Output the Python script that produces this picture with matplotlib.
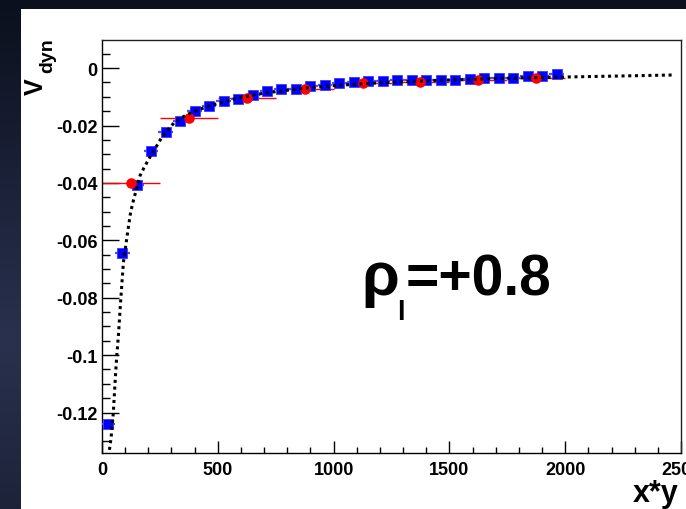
import matplotlib
matplotlib.use("Agg")
import matplotlib.pyplot as plt
import numpy as np
from matplotlib.patches import Rectangle
from matplotlib.ticker import MultipleLocator, FixedLocator, FuncFormatter

# blue squares (fine bins)
blue_x = [25, 87.5, 150, 212.5, 275, 337.5, 400, 462.5, 525, 587.5, 650,
          712.5, 775, 837.5, 900, 962.5, 1025, 1087.5, 1150, 1212.5, 1275,
          1337.5, 1400, 1462.5, 1525, 1587.5, 1650, 1712.5, 1775, 1837.5,
          1900, 1962.5]
blue_y = [-0.124, -0.0645, -0.0407, -0.029, -0.0224, -0.0183, -0.0151,
          -0.0133, -0.0116, -0.0106, -0.0094, -0.0081, -0.0072, -0.0071,
          -0.0064, -0.0059, -0.0052, -0.0050, -0.0046, -0.0045, -0.0043,
          -0.0042, -0.0042, -0.0041, -0.0040, -0.0039, -0.0036, -0.0035,
          -0.0034, -0.0029, -0.0028, -0.0020]
blue_xerr = [31.25] * len(blue_x)
blue_yerr = [0.0006] * len(blue_x)

# red circles (coarse bins)
red_x = [125, 375, 625, 875, 1125, 1375, 1625, 1875]
red_y = [-0.0400, -0.0175, -0.0103, -0.0073, -0.0053, -0.0048, -0.0041, -0.0036]
red_xerr = [125] * len(red_x)
red_yerr = [0.0003] * len(red_x)

# dotted reference curve
curve_x = [32, 39, 49, 56, 63, 71, 79, 92, 111, 124, 136, 164, 182, 202, 219,
           237, 258, 275, 294, 313, 337, 381, 450, 525, 600, 700, 800, 900,
           1000, 1200, 1400, 1600, 1800, 2000, 2200, 2460]
curve_y = [-0.133, -0.129, -0.120, -0.110, -0.101, -0.093, -0.083, -0.068,
           -0.057, -0.050, -0.046, -0.0375, -0.0346, -0.0317, -0.0293, -0.027,
           -0.0241, -0.0224, -0.0206, -0.0189, -0.0175, -0.0157, -0.0135,
           -0.0117, -0.0102, -0.0087, -0.0077, -0.0068, -0.0061, -0.0051,
           -0.0044, -0.0039, -0.0034, -0.0031, -0.0028, -0.0024]

y_ticks = [0, -0.02, -0.04, -0.06, -0.08, -0.1, -0.12]

plt.rcParams["font.family"] = ["Liberation Sans", "DejaVu Sans"]
plt.rcParams["axes.unicode_minus"] = False

W, H = 686, 510
fig = plt.figure(figsize=(W / 100, H / 100), dpi=100)

# dark backdrop with a white panel
bg = fig.add_axes([0, 0, 1, 1])
grad = np.linspace(0, 1, 256).reshape(-1, 1)
cmap = matplotlib.colors.LinearSegmentedColormap.from_list(
    "bg", ["#0b101d", "#1a2036", "#29314e", "#1d2339"])
bg.imshow(grad, aspect="auto", cmap=cmap, extent=[0, 1, 0, 1])
bg.add_patch(Rectangle((21 / W, 0), 1 - 21 / W, 1 - 10 / H,
                       facecolor="white", edgecolor="none"))
bg.set_xlim(0, 1)
bg.set_ylim(0, 1)
bg.axis("off")

ax = fig.add_axes([102 / W, 1 - 454 / H, (681 - 102) / W, (454 - 41) / H])
ax.set_facecolor("white")

ax.errorbar(red_x, red_y, xerr=red_xerr, yerr=red_yerr, fmt="none",
            ecolor="#ff0000", elinewidth=1.0, capsize=0, zorder=2)
ax.errorbar(blue_x, blue_y, xerr=blue_xerr, yerr=blue_yerr, fmt="s",
            color="#0000ff", ecolor="#4d4dff", elinewidth=1.6, capsize=0,
            markersize=7.8, markeredgewidth=0.6, markeredgecolor="#3a3aff",
            zorder=3)
ax.plot(red_x, red_y, "o", color="#ff0000", markersize=7.6,
        markeredgewidth=0, zorder=4)
ax.plot(curve_x, curve_y, color="black", linewidth=2.2,
        linestyle=(0, (1, 1.2)), dash_capstyle="butt", zorder=5)

ax.set_xlim(0, 2500)
ax.set_ylim(-0.1341, 0.0098)

ax.xaxis.set_major_locator(MultipleLocator(500))
ax.xaxis.set_minor_locator(MultipleLocator(100))
ax.yaxis.set_major_locator(FixedLocator(y_ticks))
ax.yaxis.set_minor_locator(MultipleLocator(0.005))
ax.yaxis.set_major_formatter(FuncFormatter(lambda v, p: f"{v:g}"))

ax.tick_params(axis="both", which="both", direction="in", top=False,
               right=False, labelsize=13, colors="black")
ax.tick_params(axis="y", which="major", length=12, width=1.0, pad=3)
ax.tick_params(axis="y", which="minor", length=6, width=1.0)
ax.tick_params(axis="x", which="major", length=9, width=1.0, pad=6)
ax.tick_params(axis="x", which="minor", length=4.5, width=1.0)
for lab in ax.get_xticklabels() + ax.get_yticklabels():
    lab.set_fontweight("bold")
for sp in ax.spines.values():
    sp.set_linewidth(1.0)
    sp.set_color("#222222")
ax.spines["left"].set_color("black")
ax.spines["bottom"].set_color("black")

# axis titles (ROOT style, at the axis ends)
fig.text(43 / W, 1 - 95 / H, "V", rotation=90, rotation_mode="anchor",
         fontsize=18, fontweight="bold", ha="left", va="baseline")
fig.text(52 / W, 1 - 73 / H, "dyn", rotation=90, rotation_mode="anchor",
         fontsize=14, fontweight="bold", ha="left", va="baseline")
fig.text(679 / W, 1 - 502 / H, "x*y", fontsize=22, fontweight="bold",
         ha="right", va="baseline")

# annotation
fig.text(361 / W, 1 - 295 / H, "ρ", fontsize=44, fontweight="bold",
         ha="left", va="baseline")
fig.text(397 / W, 1 - 320 / H, "l", fontsize=20, fontweight="bold",
         ha="left", va="baseline")
fig.text(406 / W, 1 - 295 / H, "=+0.8", fontsize=41, fontweight="bold",
         ha="left", va="baseline")

fig.savefig("out.png", dpi=100)
